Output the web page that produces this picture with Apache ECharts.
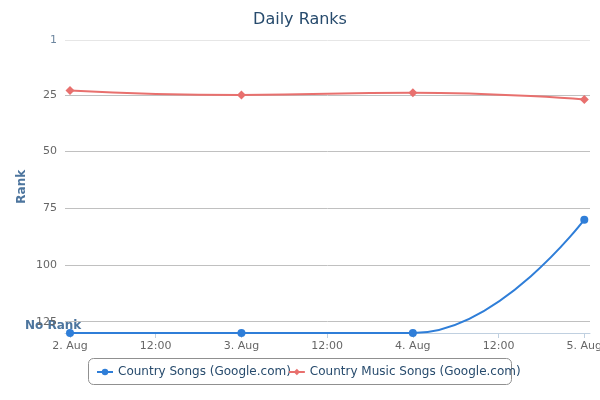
<!DOCTYPE html>
<html>
<head>
<meta charset="utf-8">
<script src="https://cdn.jsdelivr.net/npm/echarts@6/dist/echarts.min.js"></script>
<style>html,body{margin:0;padding:0;background:#fff}#c{width:600px;height:400px}</style>
</head>
<body>
<div id="c"></div>
<script>
const dayHours = [0, 24, 48, 72];
const countrySongs = [130, 130, 130, 80];
const countryMusicSongs = [23, 25, 24, 27];
const xTickHours = [0, 12, 24, 36, 48, 60, 72];
const xTickLabels = ['2. Aug', '12:00', '3. Aug', '12:00', '4. Aug', '12:00', '5. Aug'];
const yTickValues = [1, 25, 50, 75, 100, 125];
const noRankValue = 130;
const seriesNames = ['Country Songs (Google.com)', 'Country Music Songs (Google.com)'];

const font = 'DejaVu Sans, sans-serif';
const chart = echarts.init(document.getElementById('c'));
chart.setOption({
  animation: false,
  title: {
    text: 'Daily Ranks', left: 'center', top: 7,
    textStyle: { fontFamily: font, fontSize: 16, fontWeight: 'normal', color: '#274b6d' }
  },
  grid: { left: 65, right: 10, top: 40.5, bottom: 67, outerBoundsMode: 'none', containLabel: false },
  legend: {
    top: 366, left: 96,
    itemWidth: 16, itemHeight: 8, itemGap: -3,
    padding: 0,
    textStyle: { fontFamily: font, fontSize: 12, color: '#274b6d' }
  },
  xAxis: {
    type: 'value', min: -0.7, max: 72.8,
    axisLine: { show: true, lineStyle: { color: '#c0d0e0' } },
    axisTick: { show: true, length: 5, lineStyle: { color: '#c0d0e0' }, customValues: xTickHours },
    axisLabel: {
      customValues: xTickHours, fontFamily: font, fontSize: 11, color: '#666', margin: 8,
      formatter: v => xTickLabels[xTickHours.indexOf(Math.round(v))] || ''
    },
    splitLine: { show: false }
  },
  yAxis: {
    type: 'value', inverse: true, min: 1, max: noRankValue,
    name: 'Rank', nameLocation: 'middle', nameGap: 37, nameRotate: 90, nameMoveOverlap: false,
    nameTextStyle: { fontFamily: font, fontSize: 12, fontWeight: 'bold', color: '#4d759e' },
    axisLine: { show: false }, axisTick: { show: false, customValues: yTickValues },
    axisLabel: {
      customValues: yTickValues, fontFamily: font, fontSize: 11, margin: 8,
      formatter: v => v === 1 ? '{a|1}' : String(v),
      color: '#666',
      rich: { a: { color: '#6d869f', fontFamily: font, fontSize: 11 } }
    },
    splitLine: { show: true, lineStyle: { color: ['#e6e6e6', '#c0c0c0', '#c0c0c0', '#c0c0c0', '#c0c0c0', '#c0c0c0'], width: 1 } }
  },
  graphic: [
    {
      type: 'rect', left: 88, top: 358, z: -1,
      shape: { width: 423, height: 26, r: 5 },
      style: { fill: '#fff', stroke: '#909090', lineWidth: 1 }
    },
    {
      type: 'text', left: 25, top: 320,
      style: { text: 'No Rank', fontFamily: font, fontSize: 12, fontWeight: 'bold', fill: '#4d759e' }
    }
  ],
  series: [
    {
      name: seriesNames[0], type: 'line', smooth: 0.5, smoothMonotone: 'x',
      data: dayHours.map((h, i) => [h, countrySongs[i]]),
      symbol: 'circle', symbolSize: 8,
      itemStyle: { color: '#2f7ed8' }, lineStyle: { width: 2, color: '#2f7ed8' }
    },
    {
      name: seriesNames[1], type: 'line', smooth: 0.5, smoothMonotone: 'x',
      data: dayHours.map((h, i) => [h, countryMusicSongs[i]]),
      symbol: 'diamond', symbolSize: 9,
      itemStyle: { color: '#e8706e' }, lineStyle: { width: 2, color: '#e8706e' }
    }
  ]
});
</script>
</body>
</html>
